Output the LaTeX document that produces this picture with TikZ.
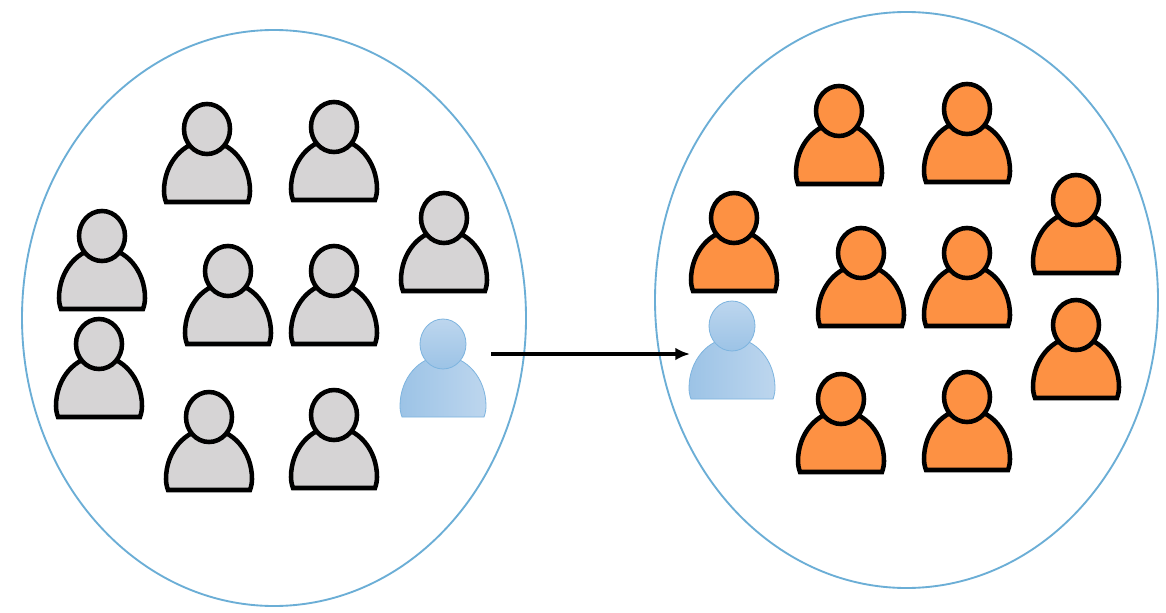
\documentclass[tikz,border=0pt]{standalone}
\usetikzlibrary{arrows.meta}
\definecolor{ringblue}{HTML}{6BAED6}
\definecolor{greyfill}{HTML}{D6D4D5}
\definecolor{orangefill}{HTML}{FD9143}
\definecolor{blueedge}{HTML}{7DB4DF}
\definecolor{bluedark}{HTML}{9CC3E6}
\definecolor{bluelight}{HTML}{BDD6EE}
\tikzset{
  x=0.75pt,y=-0.75pt,
  ring/.style={draw=ringblue,line width=1.4pt,fill=none},
  solidperson/.style={draw=black,line width=3.4pt,fill=#1,line join=miter},
  bluebody/.style={draw=blueedge,line width=0.6pt,left color=bluedark,right color=bluelight},
  bluehead/.style={draw=blueedge,line width=0.6pt,top color=bluelight,bottom color=bluedark},
  transfer/.style={draw=black,line width=2.8pt,-{Latex[length=11pt,width=9.5pt]}},
  pics/bodyshape/.style={code={
    \path[pic actions] (-41,73) .. controls (-42.5,69) and (-43,65) .. (-43,62)
      .. controls (-43,34.4) and (-23.7,12) .. (0,12)
      .. controls (23.7,12) and (43,34.4) .. (43,62)
      .. controls (43,65) and (42.5,69) .. (41,73) -- cycle;
  }},
  pics/headshape/.style={code={
    \path[pic actions] (0,0) ellipse [x radius=23,y radius=25];
  }},
  pics/person/.style={code={
    \pic[solidperson=#1] {bodyshape};
    \pic[solidperson=#1] {headshape};
  }},
  pics/blueperson/.style={code={
    \pic[bluebody] {bodyshape};
    \pic[bluehead] {headshape};
  }}
}
\begin{document}
\begin{tikzpicture}
\useasboundingbox (0,0) rectangle (1166,613);
\fill[white] (0,0) rectangle (1166,613);
\draw[ring] (274,318) ellipse [x radius=252,y radius=288];
\draw[ring] (906.5,300) ellipse [x radius=251.5,y radius=288];
\foreach \px/\py in {207/129,334/127,102/236,228/271,334/271,444/218,99/344,209/417,334/415}
  \pic at (\px,\py) {person=greyfill};
\foreach \px/\py in {839/111,967/109,734/218,861/253,967/253,1076/200,1076/325,841/399,967/397}
  \pic at (\px,\py) {person=orangefill};
\pic at (443,344) {blueperson};
\pic at (732,326) {blueperson};
\coordinate (from) at (491,354);
\coordinate (to) at (690,354);
\draw[transfer] (from) -- (to);
\end{tikzpicture}
\end{document}
